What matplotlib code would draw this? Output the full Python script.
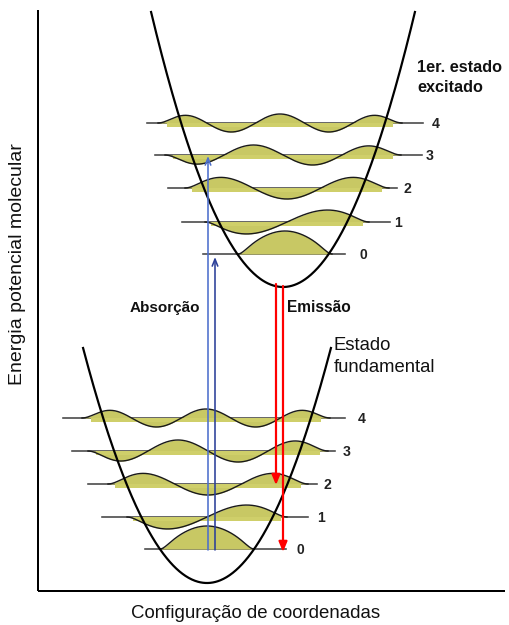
import numpy as np
import matplotlib
matplotlib.use("Agg")
import matplotlib.pyplot as plt

plt.rcParams['font.family'] = ['Liberation Sans', 'DejaVu Sans']

# ---- data (pixel-like diagram coordinates) ----
levels = [0, 1, 2, 3, 4]
level_labels = ["0", "1", "2", "3", "4"]

# ground state
g_vertex = (207, 583)
g_top = 348
g_curv = 0.0153
g_energy = [549, 517, 484, 451, 418]
g_line_start = [145, 102, 88, 72, 63]
g_line_end = [286, 308, 317, 335, 345]
g_label_x = [300, 321, 327, 347, 362]
g_wave_center = [207, 207, 208, 208, 206]
g_wave_halfwidth = [47, 80, 100, 120, 124]
g_wave_amp = [23, 12, 11, 11, 9]

# excited state
e_vertex = (283, 287)
e_top = 12
e_curv = 0.0158
e_energy = [254, 222, 188, 155, 123]
e_line_start = [203, 182, 168, 155, 147]
e_line_end = [345, 390, 397, 422, 423]
e_label_x = [363, 398, 407, 430, 436]
e_wave_center = [285, 287, 287, 283, 280]
e_wave_halfwidth = [47, 82, 102, 118, 122]
e_wave_amp = [23, 12, 11, 10, 9]

# transitions
abs_x = [208, 215]
abs_from = [550, 550]
abs_to = [156, 257]
abs_colors = ['#4d6fcc', '#2b3f99']
em_x = [276, 283]
em_from = [284, 286]
em_to = [485, 552]

W, H = 509, 625
fig = plt.figure(figsize=(W / 100, H / 100), dpi=100)
ax = fig.add_axes([0, 0, 1, 1])
ax.set_xlim(0, W)
ax.set_ylim(H, 0)
ax.axis('off')

px = 0.72  # points per pixel
fill_col = '#c8c864'
band_col = '#cfcf6a'
line_col = '#444444'

# axes
ax.plot([38, 38], [10, 591], color='black', lw=2 * px, solid_capstyle='butt')
ax.plot([38, 505], [591, 591], color='black', lw=2 * px, solid_capstyle='butt')


def draw_state(vertex, top, curv, energy, ls, le, lx, wc, ww, wa):
    for n in levels:
        base = energy[n]
        ax.plot([ls[n], le[n]], [base, base], color=line_col, lw=1.6 * px, zorder=2)
        xs = np.linspace(wc[n] - ww[n], wc[n] + ww[n], 300)
        u = (xs - wc[n]) / ww[n]
        shape = (-1) ** n * np.sin((n + 1) * np.pi * (u + 1) / 2) * (1 - np.abs(u) ** 8)
        ys = base - wa[n] * shape
        ax.fill_between(xs, ys, base, color=fill_col, lw=0, zorder=3)
        if n > 0:
            ax.plot([wc[n] - 0.93 * ww[n], wc[n] + 0.93 * ww[n]], [base + 2, base + 2],
                    color=band_col, lw=4 * px, solid_capstyle='butt', zorder=3)
        ax.plot(xs, ys, color='#1a1a1a', lw=1.4 * px, zorder=4)
        ax.text(lx[n], base + 1, level_labels[n], ha='center', va='center',
                fontsize=14 * px, fontweight='bold', color='#222222', zorder=6)
    x0, y0 = vertex
    half = np.sqrt((y0 - top) / curv)
    xp = np.linspace(x0 - half, x0 + half, 400)
    yp = y0 - curv * (xp - x0) ** 2
    ax.plot(xp, yp, color='black', lw=2.2 * px, zorder=5)


draw_state(g_vertex, g_top, g_curv, g_energy, g_line_start, g_line_end, g_label_x,
           g_wave_center, g_wave_halfwidth, g_wave_amp)
draw_state(e_vertex, e_top, e_curv, e_energy, e_line_start, e_line_end, e_label_x,
           e_wave_center, e_wave_halfwidth, e_wave_amp)

# absorption arrows
for x, y1, y2, c in zip(abs_x, abs_from, abs_to, abs_colors):
    ax.annotate('', xy=(x, y2), xytext=(x, y1),
                arrowprops=dict(arrowstyle='->,head_length=0.5,head_width=0.2',
                                color=c, lw=1.6 * px, shrinkA=0, shrinkB=0), zorder=7)
# emission arrows
for x, y1, y2 in zip(em_x, em_from, em_to):
    ax.annotate('', xy=(x, y2), xytext=(x, y1),
                arrowprops=dict(arrowstyle='-|>,head_length=0.6,head_width=0.25',
                                color='#ff0000', lw=2.2 * px, shrinkA=0, shrinkB=0), zorder=7)

# texts
ax.text(417, 67, "1er. estado", ha='left', va='center', fontsize=16.2 * px,
        fontweight='bold', color='#111111')
ax.text(417, 88, "excitado", ha='left', va='center', fontsize=16.2 * px,
        fontweight='bold', color='#111111')
ax.text(334, 345, "Estado", ha='left', va='center', fontsize=18.5 * px, color='#111111')
ax.text(334, 367, "fundamental", ha='left', va='center', fontsize=18.5 * px, color='#111111')
ax.text(165, 308, "Absorção", ha='center', va='center', fontsize=15.3 * px,
        fontweight='bold', color='#111111')
ax.text(319, 308, "Emissão", ha='center', va='center', fontsize=15.5 * px,
        fontweight='bold', color='#111111')
ax.text(256, 614, "Configuração de coordenadas", ha='center', va='center',
        fontsize=18.7 * px, color='#111111')
ax.text(18, 264, "Energia potencial molecular", ha='center', va='center',
        rotation=90, fontsize=19.5 * px, color='#111111')

fig.savefig('out.png', dpi=100)
